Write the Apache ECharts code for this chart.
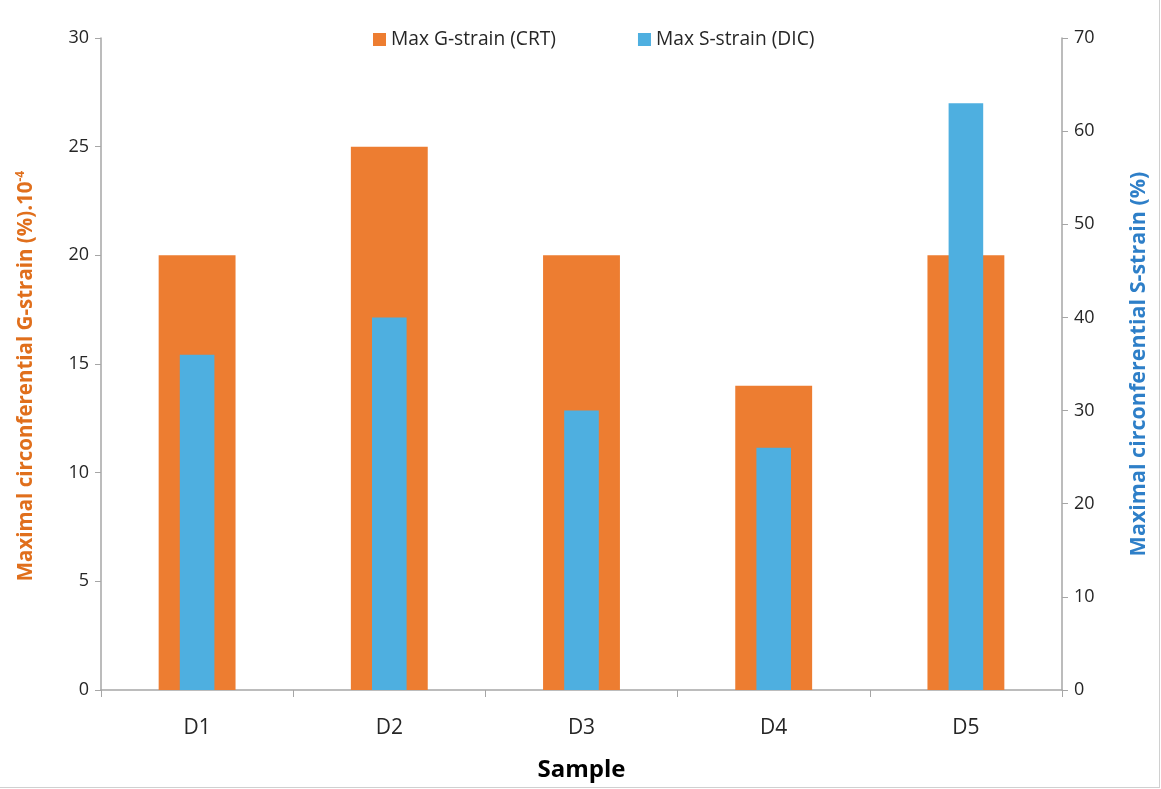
<!DOCTYPE html>
<html><head><meta charset="utf-8">
<script src="https://cdn.jsdelivr.net/npm/echarts@6/dist/echarts.min.js"></script>
<style>html,body{margin:0;padding:0;background:#fff}#c{width:1159px;height:787px;border-right:1px solid #d0d0d0;border-bottom:1px solid #d0d0d0}</style>
</head><body><div id="c"></div>
<script>
const categories = ['D1','D2','D3','D4','D5'];
const gStrain = [20, 25, 20, 14, 20];
const sStrain = [36, 40, 30, 26, 63];
const font = '"Open Sans", "Noto Sans", sans-serif';
const chart = echarts.init(document.getElementById('c'));
chart.setOption({
  animation: false,
  textStyle: {fontFamily: font},
  legend: {
    top: 25, left: 368, itemGap: 82, itemWidth: 13, itemHeight: 13, icon: 'rect',
    textStyle: {fontSize: 19.2, color: '#262626', fontFamily: font},
    data: ['Max G-strain (CRT)', 'Max S-strain (DIC)']
  },
  grid: {left: 101, right: 97, top: 38, bottom: 97, outerBoundsMode: 'none', containLabel: false},
  xAxis: [{
    type: 'category', data: categories,
    axisLine: {lineStyle: {color: '#a6a6a6', width: 1.5}},
    axisTick: {show: true, length: 7, lineStyle: {color: '#a6a6a6'}},
    axisLabel: {fontSize: 21, color: '#262626', margin: 28, fontFamily: font},
    name: 'Sample', nameLocation: 'middle', nameGap: 68,
    nameTextStyle: {fontSize: 24, fontWeight: 'bold', color: '#000', fontFamily: font}
  }, {
    type: 'category', data: categories, show: false
  }],
  yAxis: [{
    type: 'value', min: 0, max: 30, interval: 5, position: 'left',
    axisLine: {show: true, lineStyle: {color: '#a6a6a6', width: 1.5}},
    axisTick: {show: true, length: 6, lineStyle: {color: '#a6a6a6'}},
    axisLabel: {fontSize: 18, color: '#262626', margin: 12, fontFamily: font},
    splitLine: {show: false},
    name: '{a|Maximal circonferential G-strain (%).10}{b|-4}',
    nameLocation: 'middle', nameGap: 64, nameRotate: 90,
    nameTextStyle: {
      padding: [0, 24, 0, 0],
      rich: {
        a: {fontSize: 20.5, fontWeight: 'bold', color: '#e06f1c', fontFamily: font},
        b: {fontSize: 12, fontWeight: 'bold', color: '#e06f1c', fontFamily: font, verticalAlign: 'top', padding: [0,0,10,0]}
      }
    }
  }, {
    type: 'value', min: 0, max: 70, interval: 10, position: 'right',
    axisLine: {show: true, lineStyle: {color: '#a6a6a6', width: 1.5}},
    axisTick: {show: true, length: 6, lineStyle: {color: '#a6a6a6'}},
    axisLabel: {fontSize: 18, color: '#262626', margin: 12, fontFamily: font},
    splitLine: {show: false},
    name: 'Maximal circonferential S-strain (%)',
    nameLocation: 'middle', nameGap: 66, nameRotate: 90,
    nameTextStyle: {fontSize: 21.5, fontWeight: 'bold', color: '#2e7fc8', fontFamily: font}
  }],
  series: [{
    name: 'Max G-strain (CRT)', type: 'bar', xAxisIndex: 0, yAxisIndex: 0,
    data: gStrain, barWidth: '40%', itemStyle: {color: '#ed7d31'}
  }, {
    name: 'Max S-strain (DIC)', type: 'bar', xAxisIndex: 1, yAxisIndex: 1,
    data: sStrain, barWidth: '18%', itemStyle: {color: '#4eafe0'}
  }]
});
</script></body></html>
